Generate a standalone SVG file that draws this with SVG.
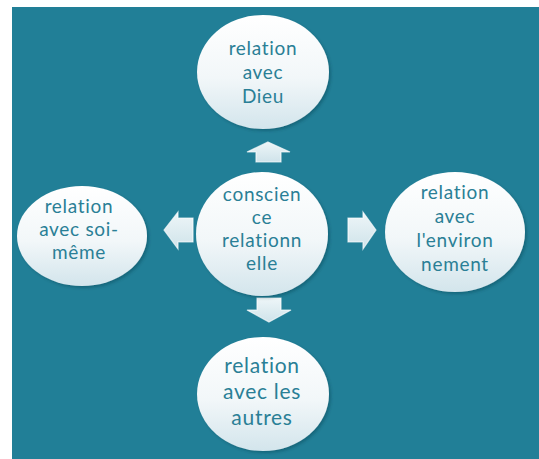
<svg xmlns="http://www.w3.org/2000/svg" width="539" height="459" viewBox="0 0 539 459">
<defs>
<linearGradient id="cg" x1="0" y1="0" x2="0" y2="1">
<stop offset="0" stop-color="#ffffff"/>
<stop offset="0.55" stop-color="#f2f7f9"/>
<stop offset="1" stop-color="#d3e5ec"/>
</linearGradient>
<linearGradient id="ag" x1="0" y1="0" x2="0" y2="1">
<stop offset="0" stop-color="#eef6f8"/>
<stop offset="1" stop-color="#cfe3ea"/>
</linearGradient>
<filter id="sh" x="-20%" y="-20%" width="140%" height="140%">
<feGaussianBlur in="SourceAlpha" stdDeviation="1.5"/>
<feOffset dx="2" dy="2" result="b"/>
<feFlood flood-color="#0b3a48" flood-opacity="0.35"/>
<feComposite in2="b" operator="in"/>
<feMerge><feMergeNode/><feMergeNode in="SourceGraphic"/></feMerge>
</filter>
</defs>
<style>
.node ellipse{fill:url(#cg);filter:url(#sh)}
.node text{font-family:Lato,"Open Sans","Liberation Sans",sans-serif;font-size:19px;letter-spacing:0.7px;fill:#2a7f96;text-anchor:middle}
.node text.big{font-size:21px}
.arr{fill:url(#ag);stroke:#ffffff;stroke-opacity:0.7;stroke-width:1.2}
</style>
<rect x="12" y="7" width="527" height="452" fill="#217f97"/>
<g id="connectors">
<path class="arr" d="M268,142 L290,152 L281,152 L281,162 L256,162 L256,152 L247,152 Z"/>
<path class="arr" d="M269,322 L291,310 L281,310 L281,298 L257,298 L257,310 L247,310 Z"/>
<path class="arr" d="M376,230 L363,212 L363,218 L348,218 L348,242 L363,242 L363,249 Z"/>
<path class="arr" d="M164,230 L178,212 L178,218 L193,218 L193,242 L178,242 L178,249 Z"/>
</g>
<g id="n-dieu" class="node">
<ellipse cx="263" cy="72" rx="66" ry="57"/>
<text x="263" y="55">relation</text>
<text x="263" y="79">avec</text>
<text x="263" y="103">Dieu</text>
</g>
<g id="n-centre" class="node">
<ellipse cx="262" cy="234" rx="66" ry="62"/>
<text x="262" y="201">conscien</text>
<text x="262" y="224">ce</text>
<text x="262" y="247">relationn</text>
<text x="262" y="270">elle</text>
</g>
<g id="n-soi" class="node">
<ellipse cx="82" cy="236" rx="65" ry="50"/>
<text x="79" y="213">relation</text>
<text x="79" y="236">avec soi-</text>
<text x="79" y="259">même</text>
</g>
<g id="n-env" class="node">
<ellipse cx="455" cy="232" rx="70" ry="60"/>
<text x="455" y="199">relation</text>
<text x="455" y="223">avec</text>
<text x="455" y="247">l'environ</text>
<text x="455" y="271">nement</text>
</g>
<g id="n-autres" class="node">
<ellipse cx="263" cy="394" rx="66" ry="57"/>
<text class="big" x="262" y="373">relation</text>
<text class="big" x="262" y="399">avec les</text>
<text class="big" x="262" y="425">autres</text>
</g>
</svg>
